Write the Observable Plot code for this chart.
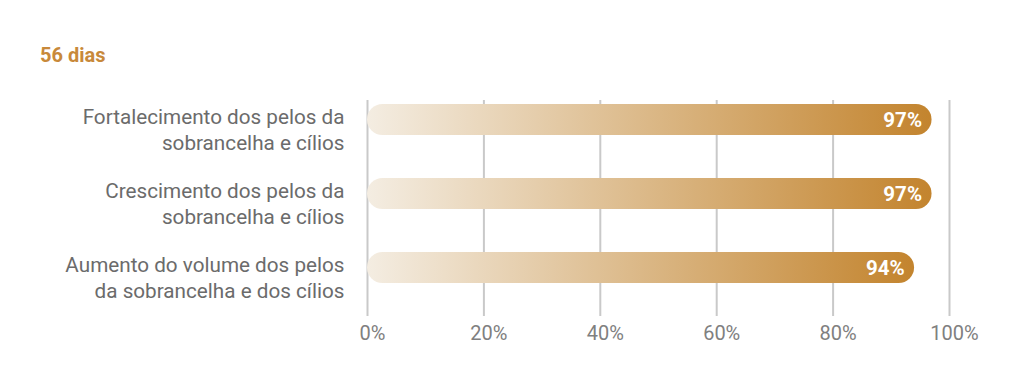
<!DOCTYPE html>
<html><head><meta charset="utf-8">
<script src="https://cdn.jsdelivr.net/npm/d3@7"></script>
<script src="https://cdn.jsdelivr.net/npm/@observablehq/plot@0.6"></script>
<style>
body{margin:0;background:#fff;font-family:Roboto,sans-serif;}
#title{height:80px;box-sizing:border-box;padding-left:40px;padding-top:43px;font-family:Roboto,sans-serif;font-weight:700;font-size:20px;color:#c8893a;line-height:24px;}
#chart svg{display:block;}
</style></head><body>
<div id="title">56 dias</div>
<div id="chart"></div>
<script>
const categories = ["Fortalecimento", "Crescimento", "Aumento do volume"];
const labels = [
  "Fortalecimento dos pelos da\nsobrancelha e cílios",
  "Crescimento dos pelos da\nsobrancelha e cílios",
  "Aumento do volume dos pelos\nda sobrancelha e dos cílios"
];
const values = [97, 97, 94];
const valueLabels = ["97%", "97%", "94%"];
const ticks = [0, 20, 40, 60, 80, 100];

const data = categories.map((c, i) => ({cat: c, label: labels[i], value: values[i], text: valueLabels[i]}));

const chart = Plot.plot({
  width: 1024, height: 304,
  marginTop: 20, marginBottom: 68, marginLeft: 367, marginRight: 75,
  style: {fontFamily: "Roboto, sans-serif", background: "#fff"},
  x: {domain: [0, 100], axis: null},
  y: {domain: categories, range: [2.4, 225.15], paddingInner: 0.58, paddingOuter: 0.29, axis: null},
  marks: [
    Plot.gridX(ticks, {stroke: "#c9c9c9", strokeWidth: 2, strokeOpacity: 1}),
    Plot.axisX(ticks, {tickSize: 0, tickPadding: 9, fontSize: 20, color: "#808080", dx: 5, label: null, tickFormat: d => d + "%"}),
    Plot.barX(data, {x: "value", y: "cat", fill: "url(#barGrad)", rx: 15.5}),
    Plot.text(data, {x: "value", y: "cat", text: "text", textAnchor: "end", dx: -10, fill: "#fff", fontWeight: 700, fontSize: 20.5}),
    Plot.text(data, {x: 0, y: "cat", text: "label", textAnchor: "end", dx: -23, dy: 9, fontSize: 20.7, fill: "#6b6b6b", lineHeight: 1.25})
  ]
});

const ns = "http://www.w3.org/2000/svg";
const defs = document.createElementNS(ns, "defs");
const grad = document.createElementNS(ns, "linearGradient");
grad.setAttribute("id", "barGrad");
grad.setAttribute("x1", "0"); grad.setAttribute("x2", "1");
grad.setAttribute("y1", "0"); grad.setAttribute("y2", "0");
[["0", "#f4ede2"], ["0.5", "#dbb887"], ["1", "#c3842e"]].forEach(([o, c]) => {
  const s = document.createElementNS(ns, "stop");
  s.setAttribute("offset", o); s.setAttribute("stop-color", c);
  grad.appendChild(s);
});
defs.appendChild(grad);
chart.insertBefore(defs, chart.firstChild);
document.getElementById("chart").appendChild(chart);
</script>
</body></html>
